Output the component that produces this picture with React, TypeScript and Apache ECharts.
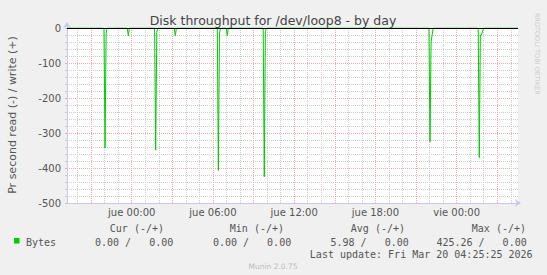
import React, { useEffect, useRef } from "react";
import * as echarts from "echarts";

// Time axis in hours relative to Thu 00:00
const X_MIN = -4.78;
const X_MAX = 28.53;
const LABEL_HOURS = [0, 6, 12, 18, 24];
const LABEL_TEXT = ["jue 00:00", "jue 06:00", "jue 12:00", "jue 18:00", "vie 00:00"];

// read (negative) throughput, hours vs bytes/s
const readTimes = [
  -4.78,
  -2.05, -1.97, -1.89, -1.81,
  -0.33, -0.25, -0.17,
  1.69, 1.77, 1.85, 1.93,
  3.14, 3.22, 3.3,
  6.32, 6.4, 6.48, 6.56,
  6.98, 7.06, 7.14,
  9.71, 9.79, 9.87, 9.95,
  21.95, 22.03, 22.11, 22.27,
  25.59, 25.67, 25.75, 25.83, 25.99,
  28.53,
];
const readValues = [
  0,
  0, -343, -15, 0,
  0, -22, 0,
  0, -349, -12, 0,
  0, -22, 0,
  0, -407, -15, 0,
  0, -22, 0,
  0, -425, -10, 0,
  0, -325, -40, 0,
  0, -370, -20, -20, 0,
  0,
];

const Y_MIN = -500;
const Y_MAX = 0;
const Y_STEP = 100;

const TITLE = "Disk throughput for /dev/loop8 - by day";
const Y_TITLE = "Pr second read (-) / write (+)";
const SERIES_NAME = "Bytes";
const legendHeaders = ["Cur (-/+)", "Min (-/+)", "Avg (-/+)", "Max (-/+)"];
const legendValues = ["0.00 /   0.00", "0.00 /   0.00", "5.98 /   0.00", "425.26 /   0.00"];
const LAST_UPDATE = "Last update: Fri Mar 20 04:25:25 2026";
const FOOTER = "Munin 2.0.75";
const WATERMARK = "RRDTOOL/ TOBI OETIKER";

const GREEN = "#00cc00";
const RED_GRID = "#eeaaaa";
const GRAY_GRID = "#cccccc";
const AXIS_COLOR = "#c8c8f0";
const TEXT = "#555555";

const W = 547, H = 275;
const GRID_L = 67, GRID_T = 28, GRID_R = 29, GRID_B = 72;

export default function App() {
  const ref = useRef<HTMLDivElement>(null);
  useEffect(() => {
    if (!ref.current) return;
    const chart = echarts.init(ref.current, undefined, { renderer: "svg" });

    const majorHours: number[] = [];
    const minorHours: number[] = [];
    for (let h = Math.ceil(X_MIN); h <= X_MAX; h++) {
      if (h % 3 === 0) majorHours.push(h);
      else minorHours.push(h);
    }

    const plotH = H - GRID_T - GRID_B;
    const data = readTimes.map((t, i) => [t, readValues[i]]);
    const sans = "DejaVu Sans";
    const mono = "DejaVu Sans Mono";

    const headerEnds = [164, 284, 405, 526];
    const valueEnds = [173.3, 291.2, 408.8, 526.7];

    chart.setOption({
      animation: false,
      backgroundColor: "transparent",
      grid: { left: GRID_L, right: GRID_R, top: GRID_T, bottom: GRID_B },
      xAxis: [
        {
          type: "value",
          min: X_MIN,
          max: X_MAX,
          position: "bottom",
          axisLine: { show: false, onZero: false },
          axisTick: {
            show: true,
            customValues: minorHours,
            inside: true,
            length: plotH,
            lineStyle: { color: GRAY_GRID, type: [1, 1], width: 1 },
          },
          axisLabel: { show: false },
          splitLine: { show: false },
        },
        {
          type: "value",
          min: X_MIN,
          max: X_MAX,
          position: "bottom",
          axisLine: { show: false, onZero: false },
          axisTick: {
            show: true,
            customValues: majorHours,
            inside: true,
            length: plotH,
            lineStyle: { color: RED_GRID, type: [1, 1], width: 1 },
          },
          axisLabel: { show: false },
          splitLine: { show: false },
        },
        {
          type: "value",
          min: X_MIN,
          max: X_MAX,
          position: "bottom",
          axisLine: {
            show: true,
            onZero: false,
            lineStyle: { color: AXIS_COLOR, width: 1 },
            symbol: ["none", "arrow"],
            symbolSize: [6, 6],
            symbolOffset: [0, 3],
          },
          axisTick: { show: false },
          axisLabel: {
            show: true,
            customValues: LABEL_HOURS,
            formatter: (v: number) => {
              const i = LABEL_HOURS.indexOf(Math.round(v));
              return i >= 0 ? LABEL_TEXT[i] : "";
            },
            color: TEXT,
            fontFamily: sans,
            fontSize: 10,
            margin: 4,
          },
          splitLine: { show: false },
        },
      ],
      yAxis: {
        type: "value",
        min: Y_MIN,
        max: Y_MAX,
        interval: Y_STEP,
        axisLine: {
          show: true,
          onZero: false,
          lineStyle: { color: AXIS_COLOR, width: 1 },
          symbol: ["none", "arrow"],
          symbolSize: [6, 6],
          symbolOffset: [0, 6],
        },
        axisTick: { show: true, length: 2, lineStyle: { color: RED_GRID } },
        minorTick: { show: true, splitNumber: 5, length: 2, lineStyle: { color: GRAY_GRID } },
        axisLabel: {
          color: TEXT,
          fontFamily: sans,
          fontSize: 10,
          margin: 6,
        },
        splitLine: { show: true, lineStyle: { color: RED_GRID, type: [1, 1], width: 1 } },
        minorSplitLine: { show: true, lineStyle: { color: GRAY_GRID, type: [1, 1], width: 1 } },
      },
      series: [
        {
          name: SERIES_NAME,
          type: "line",
          xAxisIndex: 0,
          yAxisIndex: 0,
          data,
          symbol: "none",
          lineStyle: { color: GREEN, width: 1 },
          itemStyle: { color: GREEN },
          z: 3,
          markLine: {
            silent: true,
            symbol: "none",
            label: { show: false },
            lineStyle: { color: "#000000", width: 1, type: "solid" },
            data: [{ yAxis: 0 }],
            z: 4,
          },
        },
      ],
      graphic: [
        {
          type: "text",
          x: 273,
          y: 20,
          style: {
            text: TITLE,
            fill: "#444444",
            font: `12.5px "${sans}"`,
            align: "center",
            verticalAlign: "middle",
          },
        },
        {
          type: "text",
          x: 12,
          y: 115,
          rotation: Math.PI / 2,
          style: {
            text: Y_TITLE,
            fill: TEXT,
            font: `11px "${sans}"`,
            align: "center",
            verticalAlign: "middle",
          },
        },
        {
          type: "text",
          x: 537,
          y: 13,
          rotation: -Math.PI / 2,
          style: {
            text: WATERMARK,
            fill: "#cccccc",
            font: `6.5px "${sans}"`,
            align: "left",
            verticalAlign: "middle",
          },
        },
        ...legendHeaders.map((h, i) => ({
          type: "text",
          x: headerEnds[i],
          y: 228.6,
          style: {
            text: h,
            fill: TEXT,
            font: `10px "${mono}"`,
            align: "right",
            verticalAlign: "middle",
          },
        })),
        {
          type: "rect",
          shape: { x: 14, y: 238, width: 5.5, height: 5.5 },
          style: { fill: GREEN },
        },
        {
          type: "text",
          x: 26,
          y: 242,
          style: {
            text: SERIES_NAME,
            fill: TEXT,
            font: `10px "${mono}"`,
            align: "left",
            verticalAlign: "middle",
          },
        },
        ...legendValues.map((v, i) => ({
          type: "text",
          x: valueEnds[i],
          y: 242,
          style: {
            text: v,
            fill: TEXT,
            font: `10px "${mono}"`,
            align: "right",
            verticalAlign: "middle",
          },
        })),
        {
          type: "text",
          x: 532.6,
          y: 254,
          style: {
            text: LAST_UPDATE,
            fill: TEXT,
            font: `10px "${mono}"`,
            align: "right",
            verticalAlign: "middle",
          },
        },
        {
          type: "text",
          x: 273,
          y: 266.6,
          style: {
            text: FOOTER,
            fill: "#bbbbbb",
            font: `7.5px "${sans}"`,
            align: "center",
            verticalAlign: "middle",
          },
        },
      ],
    });
    return () => chart.dispose();
  }, []);
  return (
    <div
      style={{
        position: "fixed",
        left: 0,
        top: 0,
        width: W,
        height: H,
        background: "#f0f0f0",
      }}
    >
      <div
        style={{
          position: "absolute",
          left: GRID_L,
          top: GRID_T,
          width: W - GRID_L - GRID_R,
          height: H - GRID_T - GRID_B,
          background: "#ffffff",
        }}
      />
      <div
        ref={ref}
        style={{ position: "absolute", left: 0, top: 0, width: W, height: H }}
      />
    </div>
  );
}
